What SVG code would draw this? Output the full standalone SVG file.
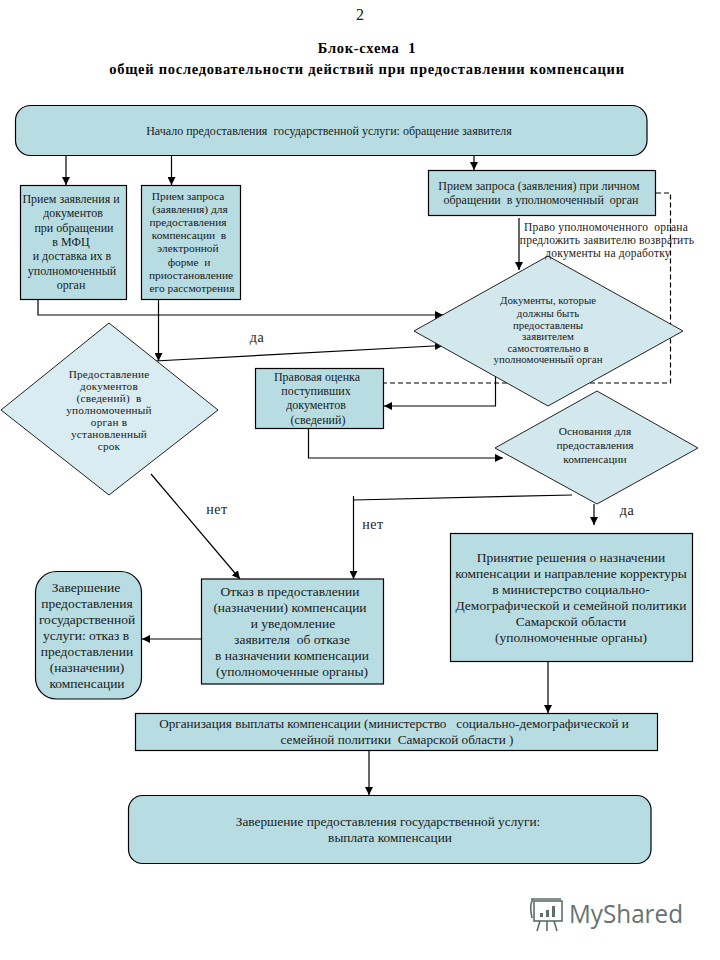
<svg xmlns="http://www.w3.org/2000/svg" width="720" height="960" viewBox="0 0 720 960">
<defs>
<marker id="arr" viewBox="0 0 10 10" refX="10" refY="5" markerWidth="8" markerHeight="8" markerUnits="userSpaceOnUse" orient="auto"><path d="M0 0L10 5L0 10Z" fill="#000"/></marker>
</defs>
<style>
text{font-family:"Liberation Serif","Times New Roman",serif;fill:#1a1a1a;text-anchor:middle;white-space:pre}
.n{fill:#b7dde2;stroke:#000;stroke-width:1.2}
.d1{fill:#d9ecf1;stroke:#222;stroke-width:1}
.d2{fill:#d2e8ec;stroke:#222;stroke-width:1}
.c{fill:none;stroke:#000;stroke-width:1.2}
.a{marker-end:url(#arr)}
.dash{stroke-dasharray:5 3}
.t{font-weight:bold;font-size:14.500px;letter-spacing:.72px;fill:#000}
.f109{font-size:10.900px}
.f114{font-size:11.400px}
.f113{font-size:11.200px;letter-spacing:.22px}
.f115{font-size:11.500px}
.f12{font-size:12px}
.f13{font-size:13.500px}
.l{font-size:14px;letter-spacing:.5px}
.logo{fill:none;stroke:#5d6e6b;stroke-width:1.6}
</style>
<rect width="720" height="960" fill="#fff"/>
<text x="360" y="20" font-size="16">2</text>
<text class="t" x="367" y="53">Блок-схема  1</text>
<text class="t" x="367" y="74">общей последовательности действий при предоставлении компенсации</text>
<g id="connectors">
<path class="c a" d="M66 155V185"/>
<path class="c a" d="M171.500 155V185"/>
<path class="c a" d="M474 155V170"/>
<path class="c a" d="M38 299V315H443"/>
<path class="c a" d="M158.500 299V361"/>
<path class="c a" d="M155 361L443 345.500"/>
<path class="c a" d="M519 218V270"/>
<path class="c dash" d="M656 193H670.500V383H383"/>
<path class="c a" d="M495.500 376V406H384"/>
<path class="c a" d="M308.500 428V458H503"/>
<path class="c a" d="M151 474L240 579"/>
<path class="c" d="M572 495L353.500 500"/>
<path class="c a" d="M353.500 496V579"/>
<path class="c a" d="M594 504V525"/>
<path class="c a" d="M201 639H142"/>
<path class="c a" d="M548 661V713"/>
<path class="c a" d="M369 750V795"/>
</g>
<g id="n-start"><rect class="n" x="15.500" y="105.500" width="631.500" height="50" rx="15"/>
<text class="f12" x="329" y="135">Начало предоставления  государственной услуги: обращение заявителя</text></g>
<g id="n-mfc"><rect class="n" x="20.500" y="185.500" width="106" height="114"/>
<text class="f12"><tspan x="71" y="203">Прием заявления и</tspan><tspan x="73" y="217">документов</tspan><tspan x="74" y="232">при обращении</tspan><tspan x="71" y="246">в МФЦ</tspan><tspan x="72" y="260">и доставка их в</tspan><tspan x="72" y="275">уполномоченный</tspan><tspan x="71" y="289">орган</tspan></text></g>
<g id="n-online"><rect class="n" x="141.500" y="185.500" width="99" height="114"/>
<text class="f114"><tspan x="188" y="200">Прием запроса</tspan><tspan x="190" y="213">(заявления) для</tspan><tspan x="188" y="226">предоставления</tspan><tspan x="189" y="239">компенсации  в</tspan><tspan x="188" y="252">электронной</tspan><tspan x="189" y="266">форме  и</tspan><tspan x="191" y="279">приостановление</tspan><tspan x="192" y="292">его рассмотрения</tspan></text></g>
<g id="n-personal"><rect class="n" x="428.500" y="170.500" width="227" height="45"/>
<text class="f12"><tspan x="539" y="190">Прием запроса (заявления) при личном</tspan><tspan x="541" y="204">обращении  в уполномоченный  орган</tspan></text></g>
<g id="n-docs"><polygon class="d2" points="414,331 548,256 683,331 548,406"/>
<text class="f109"><tspan x="548" y="304">Документы, которые</tspan><tspan x="548" y="317">должны быть</tspan><tspan x="548" y="328.500">предоставлены</tspan><tspan x="548" y="340">заявителем</tspan><tspan x="548" y="351.500">самостоятельно в</tspan><tspan x="548" y="363">уполномоченный орган</tspan></text></g>
<g id="note"><text class="f115" letter-spacing="0.2"><tspan x="606" y="231">Право уполномоченного  органа</tspan><tspan x="607" y="244">предложить заявителю возвратить</tspan><tspan x="608" y="257">документы на доработку</tspan></text></g>
<g id="n-submit"><polygon class="d1" points="1,410 109,323 218,410 109,495"/>
<text class="f113"><tspan x="109" y="378">Предоставление</tspan><tspan x="109" y="390">документов</tspan><tspan x="109" y="402">(сведений)  в</tspan><tspan x="109" y="414">уполномоченный</tspan><tspan x="109" y="426">орган в</tspan><tspan x="109" y="438">установленный</tspan><tspan x="109" y="450">срок</tspan></text></g>
<g id="n-legal"><rect class="n" x="255.500" y="368.500" width="128" height="60"/>
<text class="f12"><tspan x="317" y="381">Правовая оценка</tspan><tspan x="316" y="395">поступивших</tspan><tspan x="316" y="409">документов</tspan><tspan x="318" y="424">(сведений)</tspan></text></g>
<g id="n-grounds"><polygon class="d2" points="495,448 597,391 698,448 597,504"/>
<text class="f114"><tspan x="595" y="435">Основания для</tspan><tspan x="595" y="449">предоставления</tspan><tspan x="595" y="463">компенсации</tspan></text></g>
<g id="n-refuse"><rect class="n" x="201.500" y="579" width="182" height="105"/>
<text class="f13"><tspan x="290" y="596">Отказ в предоставлении</tspan><tspan x="290" y="612">(назначении) компенсации</tspan><tspan x="293" y="628">и уведомление</tspan><tspan x="292" y="644">заявителя  об отказе</tspan><tspan x="292" y="660">в назначении компенсации</tspan><tspan x="292" y="676">(уполномоченные органы)</tspan></text></g>
<g id="n-end-refuse"><rect class="n" x="35.500" y="571.500" width="106" height="127.500" rx="21"/>
<text class="f13"><tspan x="86" y="592">Завершение</tspan><tspan x="87" y="608">предоставления</tspan><tspan x="87" y="624">государственной</tspan><tspan x="86" y="640">услуги: отказ в</tspan><tspan x="87" y="656">предоставлении</tspan><tspan x="87" y="672">(назначении)</tspan><tspan x="87" y="688">компенсации</tspan></text></g>
<g id="n-decision"><rect class="n" x="450.500" y="533.500" width="242" height="128"/>
<text class="f13"><tspan x="571" y="562">Принятие решения о назначении</tspan><tspan x="571" y="578">компенсации и направление корректуры</tspan><tspan x="571" y="594">в министерство социально-</tspan><tspan x="571" y="610">Демографической и семейной политики</tspan><tspan x="571" y="626">Самарской области</tspan><tspan x="571" y="642">(уполномоченные органы)</tspan></text></g>
<g id="n-pay"><rect class="n" x="135.500" y="713.500" width="522" height="37"/>
<text class="f13" style="font-size:13.200px"><tspan x="394" y="728">Организация выплаты компенсации (министерство   социально-демографической и</tspan><tspan x="397" y="744">семейной политики  Самарской области )</tspan></text></g>
<g id="n-end"><rect class="n" x="128.500" y="795.500" width="522.500" height="68" rx="14"/>
<text class="f13" style="font-size:13.300px"><tspan x="388" y="826">Завершение предоставления государственной услуги:</tspan><tspan x="390" y="842">выплата компенсации</tspan></text></g>
<text class="l" x="257" y="342">да</text>
<text class="l" x="217" y="514">нет</text>
<text class="l" x="373" y="529">нет</text>
<text class="l" x="627" y="515">да</text>
<g id="logo">
<rect class="logo" x="534" y="901" width="28" height="20"/>
<path class="logo" d="M531 899H561M533 899Q529 905 532 918M540 921L537 931M547 921V931M554 921L557 931"/>
<path d="M540 917h3v-4h-3zM546 917h3v-7h-3zM552 917h3v-11h-3z" fill="#5d6e6b"/>
<text x="569" y="923" font-size="25" textLength="114" lengthAdjust="spacingAndGlyphs" style="font-family:'Open Sans','Noto Sans',sans-serif;text-anchor:start;fill:#66736f">MyShared</text>
</g>
</svg>
